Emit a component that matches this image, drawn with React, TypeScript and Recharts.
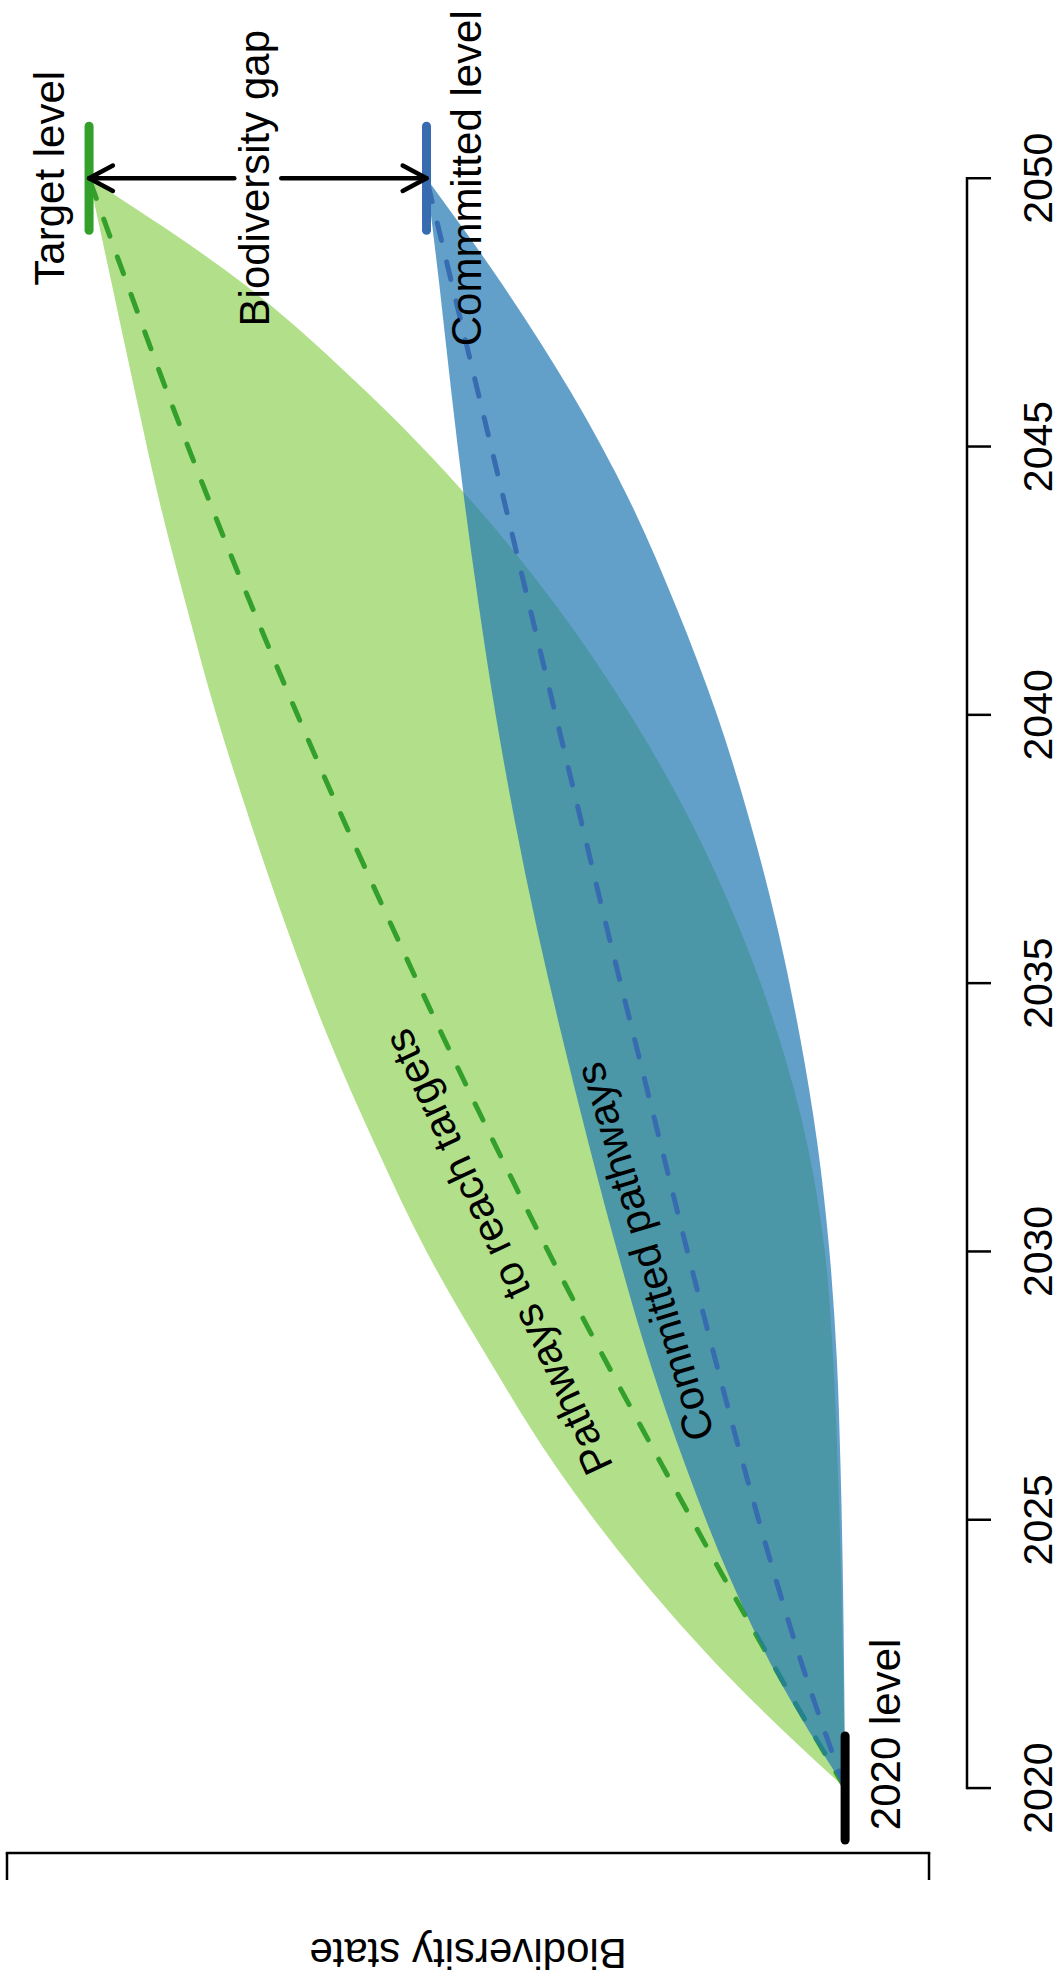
import React from 'react';
import { ComposedChart, Area, Line, XAxis, YAxis, ReferenceLine, ReferenceDot } from 'recharts';

// values (biodiversity state on an arbitrary 0-100 scale)
const years = [2020, 2022, 2024, 2026, 2028, 2030, 2032, 2034, 2036, 2038, 2040, 2042, 2044, 2046, 2048, 2050];
const targetUpper = [9.1, 21.3, 31.7, 40.5, 47.8, 54.5, 60.1, 65.2, 69.6, 73.6, 77.3, 80.5, 83.5, 86.1, 88.6, 91.1];
const targetLower = [9.1, 9.3, 9.55, 9.9, 10.4, 11.3, 13.2, 16.3, 20.5, 25.8, 32.4, 40.3, 49.7, 60.9, 74.1, 91.1];
const targetMid = [9.1, 15.9, 22.5, 28.9, 35.2, 41.3, 47.1, 52.7, 58.1, 63.4, 68.5, 73.4, 78.1, 82.6, 86.9, 91.1];
const committedUpper = [9.1, 16.2, 21.8, 26.4, 30.4, 33.8, 36.9, 39.8, 42.5, 44.9, 47.0, 48.8, 50.4, 51.8, 53.1, 54.5];
const committedLower = [9.1, 9.2, 9.35, 9.6, 10.0, 10.8, 12.1, 14.0, 16.4, 19.4, 23.0, 27.4, 32.5, 38.8, 46.2, 54.5];
const committedMid = [9.1, 13.2, 16.8, 20.1, 23.2, 26.2, 29.1, 32.0, 34.9, 37.7, 40.5, 43.3, 46.1, 48.9, 51.7, 54.5];

const yearTicks = [2020, 2025, 2030, 2035, 2040, 2045, 2050];
const stateTicks = [0, 100];

const startLevel = 9.1;
const targetLevel = 91.1;
const committedLevel = 54.5;

const rows = years.map((year, i) => ({
  year,
  targetBand: [targetLower[i], targetUpper[i]],
  targetMid: targetMid[i],
  committedBand: [committedLower[i], committedUpper[i]],
  committedMid: committedMid[i],
}));

const W = 1986;
const H = 1061;
const FONT = '"Liberation Sans", Arial, Helvetica, sans-serif';
const X_DOMAIN: [number, number] = [2018.79, 2051.7];
const Y_DOMAIN: [number, number] = [-4.12, 100];
const BAR_HALF = 0.97;

const GREEN_FILL = '#b2df8a';
const GREEN = '#33a02c';
const BLUE_FILL = '#1f78b4';
const BLUE = '#386cb0';

const segLine = (color: string, width: number, cap: 'round' | 'butt' | 'square') => (p: any) => (
  <line x1={p.x1} y1={p.y1} x2={p.x2} y2={p.y2} stroke={color} strokeWidth={width} strokeLinecap={cap} />
);

const textAt = (label: string, o: { dx?: number; dy?: number; angle?: number } = {}) => (p: any) => {
  const x = p.cx + (o.dx || 0);
  const y = p.cy + (o.dy || 0);
  return (
    <text
      x={x}
      y={y}
      transform={o.angle ? `rotate(${o.angle} ${x} ${p.cy})` : undefined}
      textAnchor="middle"
      fontSize={42}
      fontFamily={FONT}
      fill="#000"
    >
      {label}
    </text>
  );
};

// double headed arrow with a gap for its label
const GapArrow = (p: any) => {
  const x = p.x1;
  const top = Math.min(p.y1, p.y2);
  const bot = Math.max(p.y1, p.y2);
  const mid = (top + bot) / 2;
  const gap = 23.5;
  const len = 27;
  const ang = (28 * Math.PI) / 180;
  const hx = len * Math.sin(ang);
  const hy = len * Math.cos(ang);
  return (
    <g stroke="#000" strokeWidth={4.5} fill="none" strokeLinecap="round" strokeLinejoin="round">
      <line x1={x} y1={top} x2={x} y2={mid - gap} />
      <line x1={x} y1={mid + gap} x2={x} y2={bot} />
      <polyline points={`${x - hx},${top + hy} ${x},${top} ${x + hx},${top + hy}`} />
      <polyline points={`${x - hx},${bot - hy} ${x},${bot} ${x + hx},${bot - hy}`} />
    </g>
  );
};

function Chart() {
  return (
    <ComposedChart width={W} height={H} data={rows} margin={{ top: 7, right: 87, bottom: 34, left: 93 }}>
      <XAxis
        dataKey="year"
        type="number"
        domain={X_DOMAIN}
        allowDataOverflow
        ticks={yearTicks}
        interval={0}
        height={60}
        axisLine={false}
        tickSize={24}
        tickMargin={32}
        tickLine={{ stroke: '#000', strokeWidth: 2.5 }}
        tick={{ fill: '#000', fontSize: 41, fontFamily: FONT }}
      />
      <YAxis
        type="number"
        domain={Y_DOMAIN}
        allowDataOverflow
        ticks={stateTicks}
        interval={0}
        width={40}
        axisLine={false}
        tickSize={27}
        tickFormatter={() => ''}
        tickLine={{ stroke: '#000', strokeWidth: 2.5 }}
      />

      <Area dataKey="targetBand" type="monotone" stroke="none" fill={GREEN_FILL} fillOpacity={1} isAnimationActive={false} />
      <Area dataKey="targetMid" type="monotone" stroke={GREEN} strokeWidth={5} strokeDasharray="18 22" strokeLinecap="round" fill="none" fillOpacity={0} isAnimationActive={false} />
      <Area dataKey="committedBand" type="monotone" stroke="none" fill={BLUE_FILL} fillOpacity={0.7} isAnimationActive={false} />
      <Line dataKey="committedMid" type="monotone" stroke={BLUE} strokeWidth={5} strokeDasharray="18 22" strokeLinecap="round" dot={false} isAnimationActive={false} />

      {/* axis lines, R style: only over the tick range */}
      <ReferenceLine segment={[{ x: 2020, y: Y_DOMAIN[0] }, { x: 2050, y: Y_DOMAIN[0] }]} ifOverflow="visible" shape={segLine('#000', 2.5, 'square')} />
      <ReferenceLine segment={[{ x: X_DOMAIN[0], y: 0 }, { x: X_DOMAIN[0], y: 100 }]} ifOverflow="visible" shape={segLine('#000', 2.5, 'square')} />

      {/* level marks */}
      <ReferenceLine segment={[{ x: 2020 - BAR_HALF, y: startLevel }, { x: 2020 + BAR_HALF, y: startLevel }]} ifOverflow="visible" shape={segLine('#000', 9, 'round')} />
      <ReferenceLine segment={[{ x: 2050 - BAR_HALF, y: targetLevel }, { x: 2050 + BAR_HALF, y: targetLevel }]} ifOverflow="visible" shape={segLine(GREEN, 9, 'round')} />
      <ReferenceLine segment={[{ x: 2050 - BAR_HALF, y: committedLevel }, { x: 2050 + BAR_HALF, y: committedLevel }]} ifOverflow="visible" shape={segLine(BLUE, 9, 'round')} />
      <ReferenceLine segment={[{ x: 2050, y: targetLevel }, { x: 2050, y: committedLevel }]} ifOverflow="visible" shape={GapArrow} />

      {/* annotations */}
      <ReferenceDot x={2050} y={targetLevel} r={1} ifOverflow="visible" shape={textAt('Target level', { dy: -25 })} />
      <ReferenceDot x={2050} y={(targetLevel + committedLevel) / 2} r={1} ifOverflow="visible" shape={textAt('Biodiversity gap', { dy: 11 })} />
      <ReferenceDot x={2050} y={committedLevel} r={1} ifOverflow="visible" shape={textAt('Commmitted level', { dy: 54 })} />
      <ReferenceDot x={2021} y={startLevel} r={1} ifOverflow="visible" shape={textAt('2020 level', { dy: 55 })} />
      <ReferenceDot x={2030} y={46.6} r={1} ifOverflow="visible" shape={textAt('Pathways to reach targets', { dy: 13, angle: -25 })} />
      <ReferenceDot x={2030} y={30.7} r={1} ifOverflow="visible" shape={textAt('Committed pathways', { dy: 13, angle: -16.7 })} />
      <ReferenceDot x={X_DOMAIN[0]} y={50} r={1} ifOverflow="visible" shape={textAt('Biodiversity state', { dx: -86, angle: -90 })} />
    </ComposedChart>
  );
}

export default function App() {
  return (
    <div style={{ position: 'absolute', left: 0, top: 0, width: H, height: W, overflow: 'hidden', background: '#fff' }}>
      <div style={{ width: W, height: H, transformOrigin: '0 0', transform: `translate(0px, ${W}px) rotate(-90deg)` }}>
        <Chart />
      </div>
    </div>
  );
}
